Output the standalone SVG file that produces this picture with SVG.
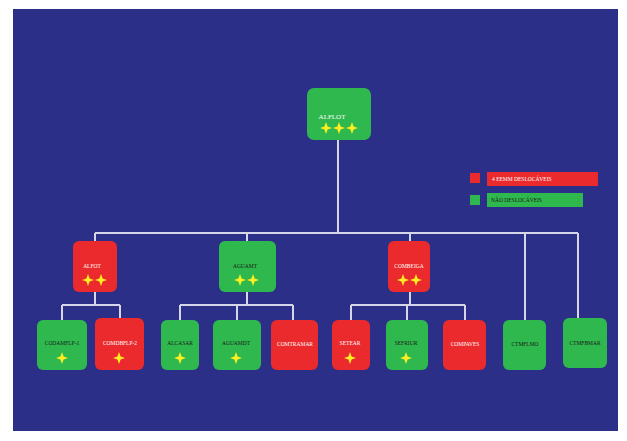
<svg xmlns="http://www.w3.org/2000/svg" xmlns:xlink="http://www.w3.org/1999/xlink" width="627" height="441" viewBox="0 0 627 441">
<style>
.g{fill:#2fb84d}
.r{fill:#ea2a2c}
.t{font-family:"Liberation Serif",serif;font-size:5.5px;text-anchor:middle}
.w{fill:#ffffff}
.d{fill:#1a1a1a}
.c{stroke:#d6d6ea;stroke-width:2;fill:none}
.s{fill:#ffee22}
</style>
<defs>
<path id="star" d="M0,-6 L1.6,-1.6 L6,0 L1.6,1.6 L0,6 L-1.6,1.6 L-6,0 L-1.6,-1.6Z"/>
</defs>
<rect x="0" y="0" width="627" height="441" fill="#ffffff"/>
<rect x="13" y="9" width="605" height="422" fill="#2c2f88"/>
<g id="connectors">
<path class="c" d="M338,140 V233 M95,233 H578 M95,233 V241 M247,233 V241 M410,233 V241 M525,233 V320 M578,233 V318"/>
<path class="c" d="M95,292 V305 M62,305 H120 M62,305 V320 M120,305 V318"/>
<path class="c" d="M247,292 V305 M180,305 H293 M180,305 V320 M237,305 V320 M293,305 V320"/>
<path class="c" d="M410,292 V305 M351,305 H465 M351,305 V320 M407,305 V320 M465,305 V320"/>
</g>
<g id="legend">
<rect class="r" x="470" y="173" width="10" height="10"/>
<rect class="r" x="487" y="172" width="111" height="14"/>
<text class="t w" x="492" y="181" style="text-anchor:start">4 EEMM  DESLOCÁVEIS</text>
<rect class="g" x="470" y="195" width="10" height="10"/>
<rect class="g" x="487" y="193" width="96" height="14"/>
<text class="t d" x="491" y="202" style="text-anchor:start">NÃO DESLOCÁVEIS</text>
</g>
<g id="alflot">
<rect class="g" x="307" y="88" width="64" height="52" rx="7"/>
<text class="t w" x="332" y="119" style="font-size:7px">ALFLOT</text>
<use href="#star" class="s" x="326" y="128"/><use href="#star" class="s" x="339" y="128"/><use href="#star" class="s" x="352" y="128"/>
</g>
<g id="alfot">
<rect class="r" x="73" y="241" width="44" height="51" rx="6"/>
<text class="t w" x="92" y="268">ALFOT</text>
<use href="#star" class="s" x="88" y="280"/><use href="#star" class="s" x="101" y="280"/>
</g>
<g id="aguamt">
<rect class="g" x="219" y="241" width="57" height="51" rx="6"/>
<text class="t d" x="245" y="268">AGUAMT</text>
<use href="#star" class="s" x="240" y="280"/><use href="#star" class="s" x="253" y="280"/>
</g>
<g id="combeiga">
<rect class="r" x="388" y="241" width="42" height="51" rx="6"/>
<text class="t w" x="409" y="268">COMBEIGA</text>
<use href="#star" class="s" x="403" y="280"/><use href="#star" class="s" x="416" y="280"/>
</g>
<g id="codamflp1">
<rect class="g" x="37" y="320" width="50" height="50" rx="6"/>
<text class="t d" x="62" y="345">CODAMFLP-1</text>
<use href="#star" class="s" x="62" y="358"/>
</g>
<g id="comdbflp2">
<rect class="r" x="95" y="318" width="49" height="52" rx="6"/>
<text class="t w" x="120" y="345">COMDBFLP-2</text>
<use href="#star" class="s" x="119" y="358"/>
</g>
<g id="alcasar">
<rect class="g" x="161" y="320" width="38" height="50" rx="6"/>
<text class="t d" x="180" y="345">ALCASAR</text>
<use href="#star" class="s" x="180" y="358"/>
</g>
<g id="aguamdt">
<rect class="g" x="213" y="320" width="48" height="50" rx="6"/>
<text class="t d" x="236" y="345">AGUAMDT</text>
<use href="#star" class="s" x="236" y="358"/>
</g>
<g id="comtramar">
<rect class="r" x="271" y="320" width="47" height="50" rx="6"/>
<text class="t w" x="295" y="346">COMTRAMAR</text>
</g>
<g id="setear">
<rect class="r" x="332" y="320" width="38" height="50" rx="6"/>
<text class="t w" x="350" y="345">SETEAR</text>
<use href="#star" class="s" x="350" y="358"/>
</g>
<g id="sefriur">
<rect class="g" x="386" y="320" width="42" height="50" rx="6"/>
<text class="t d" x="406" y="345">SEFRIUR</text>
<use href="#star" class="s" x="406" y="358"/>
</g>
<g id="compaves">
<rect class="r" x="443" y="320" width="43" height="50" rx="6"/>
<text class="t w" x="465" y="346">COMPAVES</text>
</g>
<g id="ctmflmo">
<rect class="g" x="503" y="320" width="43" height="50" rx="6"/>
<text class="t d" x="525" y="346">CTMFLMO</text>
</g>
<g id="ctmfbmar">
<rect class="g" x="563" y="318" width="44" height="50" rx="6"/>
<text class="t d" x="585" y="345">CTMFBMAR</text>
</g>
</svg>
